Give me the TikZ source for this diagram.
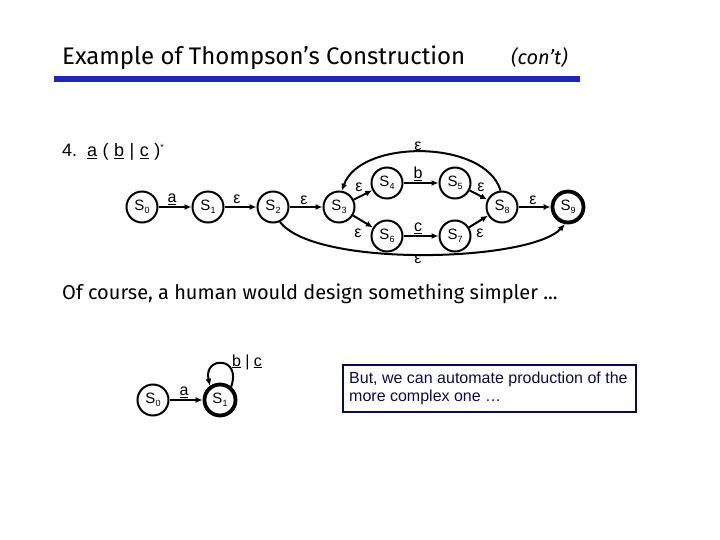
\documentclass[tikz,border=0pt]{standalone}
\usepackage{fontspec}
\setmainfont{Liberation Sans}
\newfontfamily\titlefont{Fira Sans}
\usetikzlibrary{arrows.meta}
\definecolor{barblue}{RGB}{30,40,180}
\definecolor{navy}{RGB}{10,10,80}
\newcommand\stl[1]{S\raisebox{-3pt}{\fontsize{9}{9}\selectfont #1}}
\newcommand\gp{\hspace{5.5pt}}
\begin{document}
\begin{tikzpicture}[x=1pt,y=-1pt,
  st/.style={circle, draw, line width=2pt, minimum size=31pt, inner sep=0pt, font=\fontsize{15}{15}\selectfont},
  fin/.style={st, line width=3.8pt},
  arr/.style={-{Latex[length=7pt,width=6pt]}, line width=2pt},
  lab/.style={font=\fontsize{16}{16}\selectfont, inner sep=0pt}]
\useasboundingbox (0,0) rectangle (720,540);
% title
\node[anchor=base west, inner sep=0pt, font=\titlefont\fontsize{24}{24}\selectfont] (title) at (62,65) {Example of Thompson’s Construction};
\node[anchor=base west, inner sep=0pt, font=\titlefont\itshape\fontsize{20}{20}\selectfont] (cont) at (511,65) {(con’t)};
\fill[barblue] (54,76) rectangle (580,82);
% regex
\node[anchor=base west, inner sep=0pt, font=\fontsize{18}{18}\selectfont] (re) at (62,157) {4.\hspace{10pt}\underline{a}\gp(\gp\underline{b}\gp|\gp\underline{c}\gp)\raisebox{6pt}{\fontsize{9}{9}\selectfont *}};
% first NFA
\node[st] (s0) at (142,207) {\stl{0}};
\node[st] (s1) at (208,207) {\stl{1}};
\node[st] (s2) at (273,207) {\stl{2}};
\node[st] (s3) at (339,207) {\stl{3}};
\node[st] (s4) at (387,183) {\stl{4}};
\node[st] (s5) at (455,183) {\stl{5}};
\node[st] (s6) at (387,236) {\stl{6}};
\node[st] (s7) at (455,236) {\stl{7}};
\node[st] (s8) at (502,207) {\stl{8}};
\node[fin] (s9) at (568,207) {\stl{9}};
\draw[arr] (s0) -- (s1);
\draw[arr] (s1) -- (s2);
\draw[arr] (s2) -- (s3);
\draw[arr] (s3) -- (s4);
\draw[arr] (s3) -- (s6);
\draw[arr] (s4) -- (s5);
\draw[arr] (s6) -- (s7);
\draw[arr] (s5) -- (s8);
\draw[arr] (s7) -- (s8);
\draw[arr] (s8) -- (s9);
\draw[arr] (s8.95) .. controls (485,139) and (360,139) .. (s3.80);
\draw[arr] (s2.295) .. controls (315,268) and (530,262) .. (s9.260);
\node[lab] (la) at (172,199) {\underline{a}};
\node[lab] (e1) at (237,199) {ε};
\node[lab] (e2) at (304,200) {ε};
\node[lab] (e3) at (359,187) {ε};
\node[lab] (e4) at (358,233) {ε};
\node[lab] (lb) at (418,174) {\underline{b}};
\node[lab] (lc) at (418,228) {\underline{c}};
\node[lab] (e5) at (481,187) {ε};
\node[lab] (e6) at (480,233) {ε};
\node[lab] (e7) at (533,200) {ε};
\node[lab] (e8) at (418,146) {ε};
\node[lab] (e9) at (418,259) {ε};
% sentence
\node[anchor=base west, inner sep=0pt, font=\titlefont\fontsize{20}{20}\selectfont] (txt) at (62,299) {Of course, a human would design something simpler ...};
% second NFA
\node[st] (t0) at (153,400) {\stl{0}};
\node[fin] (t1) at (220,400) {\stl{1}};
\draw[arr] (t0) -- (t1);
\draw[arr] (t1.50) .. controls (242,356) and (203,356) .. (t1.125);
\node[lab] (ta) at (184,392) {\underline{a}};
\node[lab] (tbc) at (247,362) {\underline{b} | \underline{c}};
% box
\node[draw=navy, line width=1.2pt, minimum width=293pt, minimum height=47pt, inner sep=0pt] (box) at (489.5,388.5) {};
\node[anchor=north west, inner sep=0pt, align=left, text=navy, font=\fontsize{16}{18}\selectfont] (btxt) at (349,372) {But, we can automate production of the\\more complex one …};
\end{tikzpicture}
\end{document}
